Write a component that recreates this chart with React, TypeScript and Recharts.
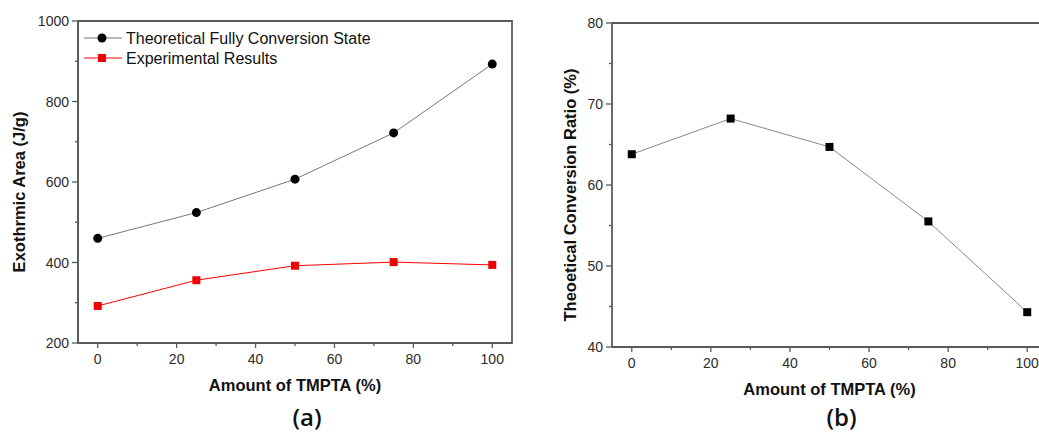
import React from 'react';
import { LineChart, Line, XAxis, YAxis, ReferenceArea, Legend } from 'recharts';

// TMPTA content (%) shared by both panels
const tmptaAmount = [0, 25, 50, 75, 100];

// Panel (a): exothermic area (J/g)
const theoreticalHeat = [460, 524, 607, 722, 893];
const experimentalHeat = [292, 356, 392, 401, 394];

// Panel (b): theoretical conversion ratio (%)
const conversionRatio = [63.8, 68.2, 64.7, 55.5, 44.3];

// Axis ticks (major ticks carry labels, the rest are minor)
const xTicks = [0, 10, 20, 30, 40, 50, 60, 70, 80, 90, 100];
const xMajorTicks = [0, 20, 40, 60, 80, 100];
const heatTicks = [200, 300, 400, 500, 600, 700, 800, 900, 1000];
const heatMajorTicks = [200, 400, 600, 800, 1000];
const ratioTicks = [40, 45, 50, 55, 60, 65, 70, 75, 80];
const ratioMajorTicks = [40, 50, 60, 70, 80];

const heatData = tmptaAmount.map((x, i) => ({
  x,
  theoretical: theoreticalHeat[i],
  experimental: experimentalHeat[i],
}));
const ratioData = tmptaAmount.map((x, i) => ({ x, ratio: conversionRatio[i] }));

const AXIS = '#5a5a5a';
const TICK_TEXT = '#2b2b2b';
const SANS = '"Liberation Sans", Arial, sans-serif';
const CHART_HEIGHT = 436;

const bottomTick = (majors: number[]) => (props: any) => {
  const { x, y, payload } = props;
  const major = majors.includes(payload.value);
  return (
    <g>
      <line x1={x} x2={x} y1={y} y2={y + (major ? 5 : 3)} stroke={AXIS} strokeWidth={1.3} />
      {major && (
        <text x={x} y={y + 21} textAnchor="middle" fontFamily={SANS} fontSize={14} fill={TICK_TEXT}>
          {payload.value}
        </text>
      )}
    </g>
  );
};

const leftTick = (majors: number[]) => (props: any) => {
  const { x, y, payload } = props;
  const major = majors.includes(payload.value);
  return (
    <g>
      <line x1={x} x2={x - (major ? 6 : 3)} y1={y} y2={y} stroke={AXIS} strokeWidth={1.3} />
      {major && (
        <text x={x - 9} y={y + 5} textAnchor="end" fontFamily={SANS} fontSize={14} fill={TICK_TEXT}>
          {payload.value}
        </text>
      )}
    </g>
  );
};

// Axis title plus the panel caption underneath it
const xTitle = (caption: string) => (props: any) => {
  const vb = props.viewBox;
  const cx = vb.x + vb.width / 2;
  return (
    <g>
      <text x={cx} y={vb.y + 48} textAnchor="middle" fontFamily={SANS} fontSize={16.5} fontWeight="bold" fill="#111">
        Amount of TMPTA (%)
      </text>
      <text
        x={cx + 12}
        y={CHART_HEIGHT - 10}
        textAnchor="middle"
        fontFamily='"Open Sans", sans-serif'
        fontSize={24}
        fontWeight={600}
        fill="#111"
      >
        {caption}
      </text>
    </g>
  );
};

const yTitle = (text: string, dx: number) => (props: any) => {
  const vb = props.viewBox;
  const cx = vb.x + vb.width - dx;
  const cy = vb.y + vb.height / 2 + 10;
  return (
    <text
      x={cx}
      y={cy}
      transform={`rotate(-90, ${cx}, ${cy})`}
      textAnchor="middle"
      dominantBaseline="central"
      fontFamily={SANS}
      fontSize={16.5}
      fontWeight="bold"
      fill="#111"
    >
      {text}
    </text>
  );
};

const Dot = (props: any) => {
  const { cx, cy } = props;
  return <circle cx={cx} cy={cy} r={4.5} fill="#000" />;
};
const Square = (color: string, size: number) => (props: any) => {
  const { cx, cy } = props;
  return <rect x={cx - size / 2} y={cy - size / 2} width={size} height={size} fill={color} />;
};

const HeatLegend = () => (
  <svg width={300} height={44} style={{ display: 'block' }}>
    <line x1={2} x2={40} y1={10} y2={10} stroke="#777" strokeWidth={1} />
    <circle cx={20} cy={10} r={4.5} fill="#000" />
    <text x={44} y={16} fontFamily={SANS} fontSize={16} fill="#111">
      Theoretical Fully Conversion State
    </text>
    <line x1={2} x2={40} y1={30} y2={30} stroke="#ff0000" strokeWidth={1} />
    <rect x={16} y={26} width={8} height={8} fill="#ee0000" />
    <text x={44} y={36} fontFamily={SANS} fontSize={16} fill="#111">
      Experimental Results
    </text>
  </svg>
);

export default function App() {
  return (
    <div
      style={{
        position: 'absolute',
        left: 0,
        top: 0,
        width: 1039,
        height: 436,
        overflow: 'hidden',
        background: '#fff',
      }}
    >
      <div style={{ position: 'absolute', left: 0, top: 0 }}>
        <LineChart width={520} height={CHART_HEIGHT} data={heatData} margin={{ top: 21, right: 8, bottom: 53, left: 30 }}>
          <XAxis
            dataKey="x"
            type="number"
            domain={[-5, 105]}
            ticks={xTicks}
            interval={0}
            height={40}
            tickSize={0}
            tickMargin={0}
            tickLine={false}
            axisLine={{ stroke: AXIS, strokeWidth: 1.8 }}
            tick={bottomTick(xMajorTicks)}
            label={xTitle('(a)')}
          />
          <YAxis
            type="number"
            domain={[200, 1000]}
            ticks={heatTicks}
            interval={0}
            width={48}
            tickSize={0}
            tickMargin={0}
            tickLine={false}
            axisLine={{ stroke: AXIS, strokeWidth: 1.8 }}
            tick={leftTick(heatMajorTicks)}
            label={yTitle('Exothrmic Area (J/g)', 59)}
          />
          <ReferenceArea x1={-5} x2={105} y1={200} y2={1000} fill="none" stroke={AXIS} strokeWidth={1.8} />
          <Legend
            layout="vertical"
            align="center"
            verticalAlign="middle"
            wrapperStyle={{ left: 82, top: 28, width: 300 }}
            content={() => <HeatLegend />}
          />
          <Line
            dataKey="theoretical"
            stroke="#777"
            strokeWidth={1}
            dot={<Dot />}
            activeDot={false}
            isAnimationActive={false}
          />
          <Line
            dataKey="experimental"
            stroke="#ff0000"
            strokeWidth={1}
            dot={Square('#ee0000', 8)}
            activeDot={false}
            isAnimationActive={false}
          />
        </LineChart>
      </div>
      <div style={{ position: 'absolute', left: 520, top: 0 }}>
        <LineChart width={540} height={CHART_HEIGHT} data={ratioData} margin={{ top: 22, right: 13, bottom: 49, left: 44 }}>
          <XAxis
            dataKey="x"
            type="number"
            domain={[-5, 105]}
            ticks={xTicks}
            interval={0}
            height={40}
            tickSize={0}
            tickMargin={0}
            tickLine={false}
            axisLine={{ stroke: AXIS, strokeWidth: 1.8 }}
            tick={bottomTick(xMajorTicks)}
            label={xTitle('(b)')}
          />
          <XAxis
            xAxisId="frame"
            orientation="top"
            dataKey="x"
            type="number"
            domain={[-5, 105]}
            height={1}
            tick={false}
            tickLine={false}
            axisLine={{ stroke: AXIS, strokeWidth: 1.8 }}
          />
          <YAxis
            type="number"
            domain={[40, 80]}
            ticks={ratioTicks}
            interval={0}
            width={48}
            tickSize={0}
            tickMargin={0}
            tickLine={false}
            axisLine={{ stroke: AXIS, strokeWidth: 1.8 }}
            tick={leftTick(ratioMajorTicks)}
            label={yTitle('Theoetical Conversion Ratio (%)', 42)}
          />
          <Line
            dataKey="ratio"
            stroke="#888"
            strokeWidth={1}
            dot={Square('#000', 8)}
            activeDot={false}
            isAnimationActive={false}
          />
        </LineChart>
      </div>
    </div>
  );
}
